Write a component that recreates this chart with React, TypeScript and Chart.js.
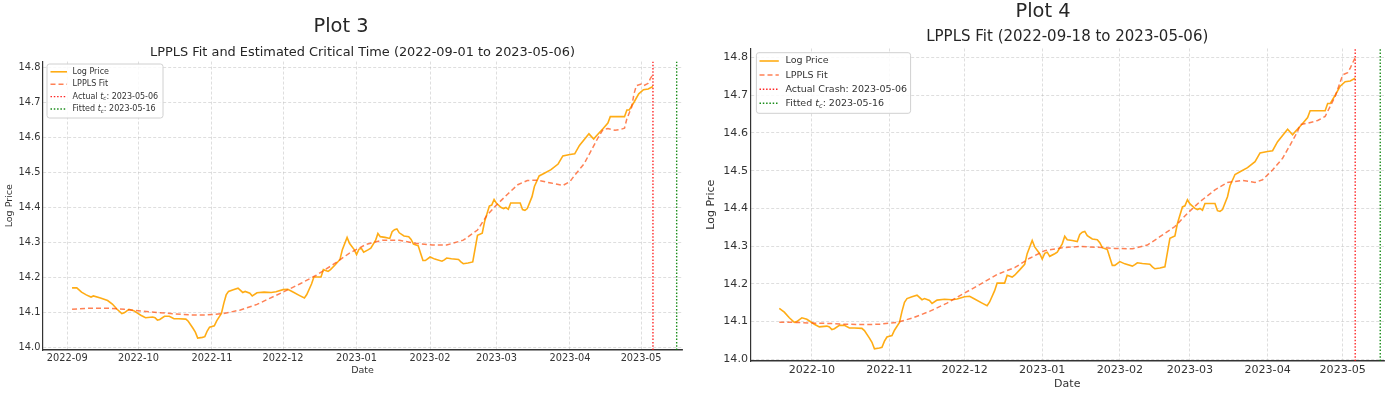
import React, { useEffect, useRef } from 'react';
import { Chart, registerables } from 'chart.js';

Chart.register(...registerables);

const FONT = "'DejaVu Sans', 'Liberation Sans', sans-serif";

// ---------------- data ----------------
const priceDates = [
  '2022-09-03', '2022-09-05', '2022-09-07', '2022-09-09', '2022-09-11', '2022-09-12', '2022-09-15', '2022-09-18', '2022-09-20', '2022-09-22', '2022-09-24', '2022-09-25', '2022-09-27', '2022-09-29',
  '2022-10-02', '2022-10-04', '2022-10-07', '2022-10-08', '2022-10-09', '2022-10-10', '2022-10-12', '2022-10-14', '2022-10-16', '2022-10-18', '2022-10-21', '2022-10-22', '2022-10-24', '2022-10-25', '2022-10-26', '2022-10-28', '2022-10-29', '2022-10-30', '2022-10-31',
  '2022-11-02', '2022-11-03', '2022-11-05', '2022-11-06', '2022-11-07', '2022-11-08', '2022-11-10', '2022-11-12', '2022-11-14', '2022-11-15', '2022-11-17', '2022-11-18', '2022-11-20', '2022-11-23', '2022-11-26', '2022-11-28',
  '2022-12-01', '2022-12-03', '2022-12-05', '2022-12-08', '2022-12-10', '2022-12-11', '2022-12-13', '2022-12-14', '2022-12-17', '2022-12-18', '2022-12-20', '2022-12-21', '2022-12-23', '2022-12-25', '2022-12-26', '2022-12-28', '2022-12-29', '2022-12-31',
  '2023-01-01', '2023-01-02', '2023-01-03', '2023-01-04', '2023-01-06', '2023-01-07', '2023-01-09', '2023-01-10', '2023-01-11', '2023-01-13', '2023-01-15', '2023-01-16', '2023-01-17', '2023-01-18', '2023-01-19', '2023-01-21', '2023-01-23', '2023-01-24', '2023-01-25', '2023-01-27', '2023-01-28', '2023-01-29', '2023-01-30',
  '2023-02-01', '2023-02-03', '2023-02-06', '2023-02-07', '2023-02-08', '2023-02-10', '2023-02-13', '2023-02-14', '2023-02-15', '2023-02-17', '2023-02-19', '2023-02-21', '2023-02-23', '2023-02-24', '2023-02-26', '2023-02-27', '2023-02-28',
  '2023-03-01', '2023-03-03', '2023-03-04', '2023-03-05', '2023-03-06', '2023-03-07', '2023-03-09', '2023-03-11', '2023-03-12', '2023-03-13', '2023-03-14', '2023-03-16', '2023-03-17', '2023-03-19', '2023-03-21', '2023-03-24', '2023-03-27', '2023-03-29',
  '2023-04-01', '2023-04-03', '2023-04-05', '2023-04-09', '2023-04-11', '2023-04-12', '2023-04-15', '2023-04-17', '2023-04-18', '2023-04-21', '2023-04-24', '2023-04-25', '2023-04-26', '2023-04-28', '2023-04-30',
  '2023-05-02', '2023-05-04', '2023-05-06',
];
const priceValues = [
  14.171, 14.171, 14.159, 14.151, 14.145, 14.148, 14.142, 14.135, 14.125, 14.110, 14.098, 14.100, 14.110, 14.106,
  14.093, 14.086, 14.088, 14.086, 14.079, 14.081, 14.090, 14.090, 14.083, 14.083, 14.082, 14.076, 14.056, 14.045, 14.028, 14.030, 14.032, 14.048, 14.059,
  14.063, 14.077, 14.098, 14.127, 14.151, 14.161, 14.166, 14.170, 14.158, 14.161, 14.156, 14.148, 14.157, 14.159, 14.158, 14.160,
  14.166, 14.167, 14.160, 14.149, 14.142, 14.152, 14.182, 14.202, 14.202, 14.223, 14.218, 14.223, 14.237, 14.252, 14.280, 14.315, 14.298, 14.280,
  14.266, 14.281, 14.284, 14.273, 14.280, 14.284, 14.306, 14.326, 14.317, 14.315, 14.312, 14.331, 14.337, 14.339, 14.328, 14.319, 14.317, 14.309, 14.296, 14.291, 14.270, 14.249, 14.249,
  14.259, 14.253, 14.247, 14.251, 14.256, 14.254, 14.252, 14.245, 14.240, 14.242, 14.245, 14.321, 14.327, 14.360, 14.404, 14.407, 14.423,
  14.412, 14.400, 14.397, 14.400, 14.395, 14.413, 14.413, 14.413, 14.394, 14.392, 14.397, 14.431, 14.460, 14.490, 14.497, 14.508, 14.524, 14.547,
  14.551, 14.553, 14.577, 14.610, 14.595, 14.603, 14.625, 14.641, 14.659, 14.659, 14.659, 14.678, 14.678, 14.700, 14.724,
  14.736, 14.738, 14.745,
];

const fit3Dates = [
  '2022-09-03', '2022-09-10', '2022-09-18', '2022-09-25', '2022-10-02', '2022-10-09', '2022-10-16', '2022-10-23', '2022-10-30',
  '2022-11-06', '2022-11-13', '2022-11-20', '2022-11-25', '2022-12-01', '2022-12-08', '2022-12-15', '2022-12-22', '2022-12-29',
  '2023-01-05', '2023-01-12', '2023-01-19', '2023-01-26', '2023-02-02', '2023-02-08', '2023-02-15', '2023-02-21', '2023-02-25',
  '2023-03-01', '2023-03-06', '2023-03-10', '2023-03-14', '2023-03-18', '2023-03-24', '2023-03-29', '2023-04-01', '2023-04-03',
  '2023-04-07', '2023-04-10', '2023-04-13', '2023-04-15', '2023-04-17', '2023-04-20', '2023-04-22', '2023-04-24', '2023-04-25',
  '2023-04-27', '2023-04-28', '2023-04-29', '2023-05-01', '2023-05-02', '2023-05-04', '2023-05-05', '2023-05-06',
];
const fit3Values = [
  14.110, 14.113, 14.113, 14.110, 14.105, 14.101, 14.097, 14.094, 14.094,
  14.098, 14.108, 14.124, 14.140, 14.159, 14.182, 14.207, 14.237, 14.270,
  14.295, 14.307, 14.307, 14.298, 14.293, 14.293, 14.307, 14.336, 14.378,
  14.407, 14.440, 14.465, 14.477, 14.478, 14.470, 14.463, 14.474, 14.492,
  14.525, 14.563, 14.601, 14.623, 14.625, 14.620, 14.622, 14.626, 14.653,
  14.686, 14.724, 14.747, 14.752, 14.747, 14.754, 14.769, 14.778,
];

const fit4Dates = [
  '2022-09-18', '2022-09-24', '2022-10-01', '2022-10-08', '2022-10-14', '2022-10-21', '2022-10-28', '2022-11-04', '2022-11-10',
  '2022-11-17', '2022-11-24', '2022-11-30', '2022-12-07', '2022-12-14', '2022-12-21', '2022-12-27', '2023-01-02', '2023-01-09',
  '2023-01-16', '2023-01-23', '2023-01-30', '2023-02-06', '2023-02-12', '2023-02-17', '2023-02-23', '2023-02-28', '2023-03-05',
  '2023-03-11', '2023-03-16', '2023-03-22', '2023-03-27', '2023-03-30', '2023-04-03', '2023-04-07', '2023-04-10', '2023-04-13',
  '2023-04-14', '2023-04-17', '2023-04-21', '2023-04-24', '2023-04-28', '2023-05-01', '2023-05-03', '2023-05-04', '2023-05-06',
];
const fit4Values = [
  14.098, 14.098, 14.096, 14.095, 14.093, 14.092, 14.093, 14.098, 14.109,
  14.127, 14.149, 14.172, 14.198, 14.225, 14.243, 14.268, 14.288, 14.296,
  14.299, 14.297, 14.294, 14.293, 14.303, 14.325, 14.352, 14.387, 14.418,
  14.449, 14.469, 14.474, 14.469, 14.476, 14.502, 14.533, 14.568, 14.604,
  14.622, 14.626, 14.633, 14.644, 14.697, 14.754, 14.760, 14.772, 14.800,
];

const monthTickDates = ['2022-09-01', '2022-10-01', '2022-11-01', '2022-12-01', '2023-01-01', '2023-02-01', '2023-03-01', '2023-04-01', '2023-05-01'];
const monthTickLabels = ['2022-09', '2022-10', '2022-11', '2022-12', '2023-01', '2023-02', '2023-03', '2023-04', '2023-05'];
const yTickValues = [14.0, 14.1, 14.2, 14.3, 14.4, 14.5, 14.6, 14.7, 14.8];

const actualCrashDate = '2023-05-06';
const fittedTcDate = '2023-05-16';

// ---------------- helpers ----------------
const ORIGIN = Date.UTC(2022, 8, 1);
const dayOf = (s: string) => {
  const [y, m, d] = s.split('-').map(Number);
  return (Date.UTC(y, m - 1, d) - ORIGIN) / 86400000;
};

const PRICE_COLOR = 'rgba(255,165,0,0.92)';
const FIT_COLOR = 'rgba(255,80,20,0.72)';
const TEXT = '#333333';
const GRID = 'rgba(180,180,180,0.55)';

function drawRichText(ctx: CanvasRenderingContext2D, text: string, x: number, y: number, size: number) {
  const parts = text.split('$t_c$');
  let cx = x;
  ctx.textBaseline = 'middle';
  ctx.textAlign = 'left';
  ctx.fillStyle = TEXT;
  parts.forEach((p, i) => {
    ctx.font = `${size}px ${FONT}`;
    ctx.fillText(p, cx, y);
    cx += ctx.measureText(p).width;
    if (i < parts.length - 1) {
      ctx.font = `italic ${size}px ${FONT}`;
      ctx.fillText('t', cx, y);
      cx += ctx.measureText('t').width;
      ctx.font = `italic ${size * 0.7}px ${FONT}`;
      ctx.fillText('c', cx, y + size * 0.28);
      cx += ctx.measureText('c').width;
    }
  });
}

const mplLegend = {
  id: 'mplLegend',
  afterDraw(chart: any, _args: any, opts: any) {
    const ctx: CanvasRenderingContext2D = chart.ctx;
    const { x, y, w, h, fontSize, firstRow, rowH, handleX, handleLen, textX } = opts;
    ctx.save();
    ctx.beginPath();
    const r = 2.5;
    ctx.moveTo(x + r, y);
    ctx.lineTo(x + w - r, y);
    ctx.quadraticCurveTo(x + w, y, x + w, y + r);
    ctx.lineTo(x + w, y + h - r);
    ctx.quadraticCurveTo(x + w, y + h, x + w - r, y + h);
    ctx.lineTo(x + r, y + h);
    ctx.quadraticCurveTo(x, y + h, x, y + h - r);
    ctx.lineTo(x, y + r);
    ctx.quadraticCurveTo(x, y, x + r, y);
    ctx.closePath();
    ctx.fillStyle = 'rgba(255,255,255,0.85)';
    ctx.fill();
    ctx.strokeStyle = '#d0d0d0';
    ctx.lineWidth = 1;
    ctx.stroke();
    chart.data.datasets.forEach((ds: any, i: number) => {
      const cy = firstRow + i * rowH;
      ctx.beginPath();
      ctx.strokeStyle = ds.borderColor;
      ctx.lineWidth = ds.borderWidth;
      ctx.setLineDash(ds.borderDash || []);
      ctx.moveTo(handleX, cy);
      ctx.lineTo(handleX + handleLen, cy);
      ctx.stroke();
      ctx.setLineDash([]);
      drawRichText(ctx, ds.label, textX, cy, fontSize);
    });
    ctx.restore();
  },
};

type Spec = {
  left: number;
  width: number;
  title: string;
  subtitle: string;
  startDate: string;
  fitDates: string[];
  fitValues: number[];
  actualLabel: string;
  yMin: number;
  yMax: number;
  padRight: number;
  suptitleSize: number;
  suptitlePad: { top: number; bottom: number };
  subtitleSize: number;
  subtitlePad: { top: number; bottom: number };
  tickSize: number;
  labelSize: number;
  yAxisWidth: number;
  yTickPad: number;
  yTitlePad: number;
  xAxisHeight: number;
  xTickPad: number;
  xTitlePad: number;
  legend: any;
};

const specs: Spec[] = [
  {
    left: 0,
    width: 690,
    title: 'Plot 3',
    subtitle: 'LPPLS Fit and Estimated Critical Time (2022-09-01 to 2023-05-06)',
    startDate: '2022-09-01',
    fitDates: fit3Dates,
    fitValues: fit3Values,
    actualLabel: `Actual $t_c$: ${actualCrashDate}`,
    yMin: 13.994,
    yMax: 14.816,
    padRight: 8,
    suptitleSize: 19.4,
    suptitlePad: { top: 15.6, bottom: 0 },
    subtitleSize: 12.9,
    subtitlePad: { top: 6.5, bottom: 0.7 },
    tickSize: 9.8,
    labelSize: 9.5,
    yAxisWidth: 43,
    yTickPad: 2.6,
    yTitlePad: 3.8,
    xAxisHeight: 52,
    xTickPad: 2.5,
    xTitlePad: 25.5,
    legend: { x: 47, y: 64, w: 116, h: 54, fontSize: 8, firstRow: 71.8, rowH: 12.4, handleX: 50.5, handleLen: 16.5, textX: 72.6 },
  },
  {
    left: 702,
    width: 687,
    title: 'Plot 4',
    subtitle: 'LPPLS Fit (2022-09-18 to 2023-05-06)',
    startDate: '2022-09-18',
    fitDates: fit4Dates,
    fitValues: fit4Values,
    actualLabel: `Actual Crash: ${actualCrashDate}`,
    yMin: 13.9955,
    yMax: 14.824,
    padRight: 5,
    suptitleSize: 19.4,
    suptitlePad: { top: 0.8, bottom: 0 },
    subtitleSize: 15,
    subtitlePad: { top: 4.3, bottom: 2.1 },
    tickSize: 11.1,
    labelSize: 11,
    yAxisWidth: 48.5,
    yTickPad: 2.5,
    yTitlePad: 2.9,
    xAxisHeight: 41,
    xTickPad: 2.5,
    xTitlePad: 11,
    legend: { x: 54.4, y: 52.7, w: 154.2, h: 60.6, fontSize: 9.5, firstRow: 61, rowH: 14.1, handleX: 57.5, handleLen: 19.3, textX: 83.5 },
  },
];

function Panel({ spec }: { spec: Spec }) {
  const ref = useRef<HTMLCanvasElement>(null);
  useEffect(() => {
    if (!ref.current) return;
    const startDay = dayOf(spec.startDate);
    const price = priceDates
      .map((d, i) => ({ x: dayOf(d), y: priceValues[i] }))
      .filter((p) => p.x >= startDay);
    const fit = spec.fitDates.map((d, i) => ({ x: dayOf(d), y: spec.fitValues[i] }));
    const crash = dayOf(actualCrashDate);
    const tc = dayOf(fittedTcDate);
    const first = price[0].x;
    const span = crash - first;
    const xMin = first - 0.05 * span;
    const xMax = crash + 0.05 * span;
    const tickDays = monthTickDates.map(dayOf);
    const visibleTicks = tickDays.filter((v) => v >= xMin && v <= xMax);

    const chart = new Chart(ref.current, {
      type: 'line',
      data: {
        datasets: [
          { label: 'Log Price', data: price, borderColor: PRICE_COLOR, borderWidth: 1.6, pointRadius: 0, tension: 0, order: 1 } as any,
          { label: 'LPPLS Fit', data: fit, borderColor: FIT_COLOR, borderWidth: 1.5, borderDash: [5, 3], pointRadius: 0, tension: 0, order: 0 } as any,
          { label: spec.actualLabel, data: [{ x: crash, y: spec.yMin }, { x: crash, y: spec.yMax }], borderColor: 'rgba(255,0,0,0.85)', borderWidth: 1.4, borderDash: [1.5, 1.8], pointRadius: 0, order: 0 } as any,
          { label: `Fitted $t_c$: ${fittedTcDate}`, data: [{ x: tc, y: spec.yMin }, { x: tc, y: spec.yMax }], borderColor: 'rgba(0,128,0,0.9)', borderWidth: 1.4, borderDash: [1.5, 1.8], pointRadius: 0, order: 0 } as any,
        ],
      },
      options: {
        responsive: false,
        animation: false,
        devicePixelRatio: 1,
        events: [],
        layout: { padding: { left: 0, right: spec.padRight, top: 0, bottom: 0 } },
        plugins: {
          legend: { display: false },
          tooltip: { enabled: false },
          title: {
            display: true,
            text: spec.title,
            color: '#262626',
            font: { family: FONT, size: spec.suptitleSize, weight: 'normal' as any, lineHeight: 1.2 },
            padding: spec.suptitlePad,
          },
          subtitle: {
            display: true,
            text: spec.subtitle,
            fullSize: false,
            color: '#262626',
            font: { family: FONT, size: spec.subtitleSize, weight: 'normal' as any, lineHeight: 1.2 },
            padding: spec.subtitlePad,
          },
          mplLegend: spec.legend,
        } as any,
        scales: {
          x: {
            type: 'linear',
            min: xMin,
            max: xMax,
            afterBuildTicks: (s: any) => {
              s.ticks = visibleTicks.map((v) => ({ value: v }));
            },
            afterFit: (s: any) => {
              s.height = spec.xAxisHeight;
            },
            ticks: {
              autoSkip: false,
              maxRotation: 0,
              padding: spec.xTickPad,
              color: TEXT,
              font: { family: FONT, size: spec.tickSize },
              callback: (v: any) => {
                const idx = tickDays.indexOf(Number(v));
                return idx >= 0 ? monthTickLabels[idx] : '';
              },
            },
            grid: { color: GRID, lineWidth: 0.8, drawTicks: false },
            border: { display: true, color: '#333333', width: 1.6, dash: [3, 2] },
            title: {
              display: true,
              text: 'Date',
              color: TEXT,
              font: { family: FONT, size: spec.labelSize, lineHeight: 1.2 },
              padding: { top: 0, bottom: spec.xTitlePad },
            },
          },
          y: {
            type: 'linear',
            min: spec.yMin,
            max: spec.yMax,
            afterBuildTicks: (s: any) => {
              s.ticks = yTickValues.map((v) => ({ value: v }));
            },
            afterFit: (s: any) => {
              s.width = spec.yAxisWidth;
            },
            ticks: {
              padding: spec.yTickPad,
              color: TEXT,
              font: { family: FONT, size: spec.tickSize },
              callback: (v: any) => Number(v).toFixed(1),
            },
            grid: { color: GRID, lineWidth: 0.8, drawTicks: false },
            border: { display: true, color: '#333333', width: 1.2, dash: [3, 2] },
            title: {
              display: true,
              text: 'Log Price',
              color: TEXT,
              font: { family: FONT, size: spec.labelSize, lineHeight: 1.2 },
              padding: { top: spec.yTitlePad, bottom: 0 },
            },
          },
        },
      } as any,
      plugins: [mplLegend as any],
    });
    return () => chart.destroy();
  }, [spec]);
  return (
    <canvas
      ref={ref}
      width={spec.width}
      height={402}
      style={{ position: 'absolute', left: spec.left, top: 0, width: spec.width, height: 402 }}
    />
  );
}

export default function App() {
  return (
    <div style={{ position: 'fixed', left: 0, top: 0, width: 1389, height: 402, background: '#ffffff', overflow: 'hidden' }}>
      {specs.map((s) => (
        <Panel key={s.title} spec={s} />
      ))}
    </div>
  );
}
